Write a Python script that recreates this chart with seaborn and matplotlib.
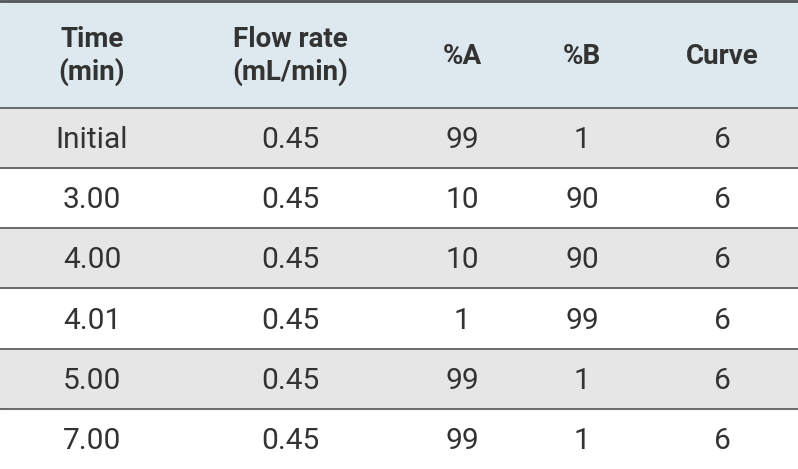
import matplotlib
matplotlib.use("Agg")
import matplotlib.pyplot as plt
import seaborn as sns
import numpy as np

headers = ["Time\n(min)", "Flow rate\n(mL/min)", "%A", "%B", "Curve"]
time = ["Initial", "3.00", "4.00", "4.01", "5.00", "7.00"]
flow = ["0.45"] * 6
pa = ["99", "10", "10", "1", "99", "99"]
pb = ["1", "90", "90", "99", "1", "1"]
curve = ["6"] * 6

sns.set_theme(style="white")
W, H = 798, 469
fig = plt.figure(figsize=(W / 100, H / 100), dpi=100)
ax = fig.add_axes([0, 0, 1, 1])
ax.set_xlim(0, W)
ax.set_ylim(H, 0)
ax.axis("off")

xc = [92, 290, 462, 582, 722]
header_h = 108
row_h = (H - header_h) / 6

ax.axhspan(0, header_h, color="#dde9ee", zorder=0)
for i, hd in enumerate(headers):
    ax.text(xc[i], header_h / 2 + 2, hd, ha="center", va="center", fontsize=20,
            fontweight="bold", color="#333333", family="Roboto", linespacing=1.25)

cols = [time, flow, pa, pb, curve]
for r in range(6):
    y0 = header_h + r * row_h
    if r % 2 == 0:
        ax.axhspan(y0, y0 + row_h, color="#e6e6e6", zorder=0)
    for c in range(5):
        ax.text(xc[c], y0 + row_h / 2 + 2, cols[c][r], ha="center", va="center",
                fontsize=21.5, color="#333333", family="Roboto")
    ax.axhline(y0, color="#555555", lw=1.2)
ax.axhline(1, color="#555555", lw=2)

fig.savefig("out.png", dpi=100)
